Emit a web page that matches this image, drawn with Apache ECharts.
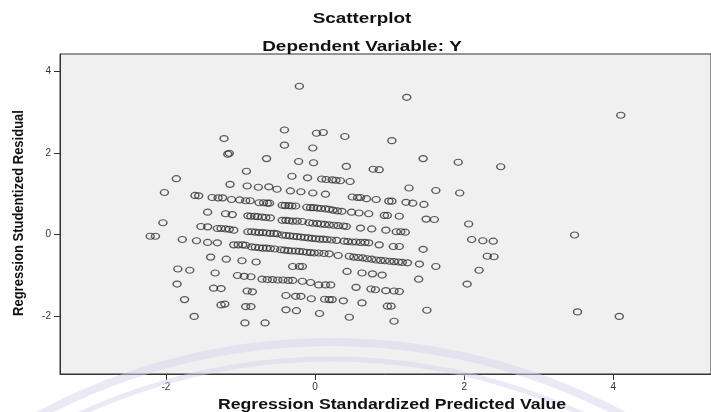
<!DOCTYPE html>
<html>
<head>
<meta charset="utf-8">
<script src="https://cdn.jsdelivr.net/npm/echarts@6/dist/echarts.min.js"></script>
<style>html,body{margin:0;padding:0;background:#fff;}#c{width:711px;height:412px;}</style>
</head>
<body>
<div id="c"></div>
<script>
// Tick values
const xTicks = [-2, 0, 2, 4];
const yTicks = [-2, 0, 2, 4];

// Points [standardized predicted, studentized residual]
const upperPoints = [
  [-2.02,1.03],[-1.14,1.23],[-0.91,1.19],[-0.76,1.16],[-0.62,1.17],[-0.51,1.11],[-0.33,1.07],[-0.19,1.05],[-0.03,1.02],[0.14,0.99],
  [0.50,0.92],[0.57,0.91],[0.61,0.91],[0.69,0.88],[0.82,0.86],[0.99,0.82],[1.03,0.82],[1.22,0.79],[1.31,0.77],[1.46,0.74],
  [-1.86,1.37],[-0.92,1.55],[-0.31,1.43],[-0.10,1.39],[0.09,1.36],[0.15,1.35],[0.23,1.34],[0.28,1.33],[0.34,1.32],[0.47,1.30],
  [1.26,1.14],[1.62,1.08],[1.94,1.02],
  [-0.65,1.86],[-0.22,1.79],[-0.02,1.76],[-1.17,1.97],[-1.15,1.99],[-0.41,2.19],[-0.03,2.12],[-1.22,2.35],[-0.41,2.56],
  [0.02,2.48],[0.11,2.50],[0.40,2.40],[1.03,2.30],[-0.21,3.63],[1.23,3.36],[4.10,2.92],[1.45,1.86],[1.92,1.77],[2.49,1.66],
  [0.42,1.67],[0.78,1.60],[0.86,1.59]
];
const bandA = [
  [-1.61,0.96],[-1.56,0.95],[-1.38,0.91],[-1.30,0.90],[-1.24,0.90],[-1.12,0.86],[-1.01,0.85],[-0.93,0.83],[-0.87,0.83],
  [-0.75,0.78],[-0.69,0.78],[-0.64,0.77],[-0.61,0.77],[-0.44,0.72],[-0.40,0.71],[-0.35,0.71],[-0.31,0.70],[-0.26,0.70],
  [-0.11,0.67],[-0.06,0.66],[-0.02,0.66],[0.03,0.65],[0.08,0.64],[0.14,0.63],[0.19,0.62],[0.24,0.60],[0.30,0.58],[0.36,0.57],
  [0.49,0.55],[0.59,0.53],[0.72,0.51],[0.93,0.47],[0.97,0.47],[1.13,0.45],[1.49,0.38],[1.60,0.37]
];
const bandB = [
  [-2.04,0.29],[-1.53,0.20],[-1.44,0.19],[-1.31,0.15],[-1.26,0.15],[-1.20,0.14],[-1.15,0.13],[-1.09,0.11],
  [-1.44,0.55],[-1.20,0.51],[-1.11,0.49],[-0.90,0.46],[-0.86,0.45],[-0.81,0.45],[-0.77,0.44],[-0.71,0.43],[-0.66,0.42],[-0.60,0.41],
  [-0.44,0.35],[-0.39,0.35],[-0.35,0.34],[-0.30,0.33],[-0.24,0.33],[-0.17,0.32],[-0.08,0.29],[-0.03,0.28],[0.03,0.27],[0.08,0.26],
  [0.13,0.25],[0.19,0.24],[0.25,0.23],[0.31,0.22],[0.38,0.21],[0.42,0.20],[0.61,0.16],[0.76,0.14],[0.95,0.11],[1.09,0.07],
  [1.15,0.07],[1.21,0.06],[2.06,0.26]
];
const bandC = [
  [-2.21,-0.04],[-2.14,-0.04],[-1.78,-0.12],[-1.59,-0.15],[-1.44,-0.19],[-1.31,-0.20],
  [-0.90,0.07],[-0.85,0.07],[-0.80,0.06],[-0.75,0.05],[-0.70,0.05],[-0.65,0.04],[-0.60,0.03],[-0.55,0.03],[-0.51,0.02],
  [-0.44,-0.01],[-0.39,-0.02],[-0.34,-0.03],[-0.29,-0.04],[-0.24,-0.05],[-0.19,-0.06],[-0.14,-0.07],[-0.09,-0.08],[-0.04,-0.09],
  [0.01,-0.10],[0.06,-0.11],[0.11,-0.11],[0.16,-0.12],[0.22,-0.13],[0.29,-0.14],[0.39,-0.16],[0.44,-0.17],[0.50,-0.18],
  [0.55,-0.18],[0.61,-0.19],[0.67,-0.19],[0.72,-0.20],[0.86,-0.25],[1.05,-0.29],[1.13,-0.29],[1.45,-0.36],
  [2.10,-0.12],[2.25,-0.15],[2.39,-0.16],[3.48,-0.01]
];
const bandD = [
  [-1.09,-0.25],[-1.03,-0.25],[-0.97,-0.25],[-0.93,-0.26],[-0.85,-0.30],[-0.80,-0.31],[-0.75,-0.32],[-0.70,-0.33],[-0.65,-0.33],
  [-0.60,-0.34],[-0.54,-0.35],[-0.46,-0.37],[-0.41,-0.38],[-0.36,-0.39],[-0.31,-0.40],[-0.26,-0.40],[-0.21,-0.41],[-0.16,-0.42],
  [-0.11,-0.43],[-0.06,-0.44],[-0.01,-0.45],[0.05,-0.45],[0.12,-0.46],[0.19,-0.47],[0.31,-0.51],[0.46,-0.53],[0.52,-0.55],
  [0.58,-0.56],[0.64,-0.57],[0.70,-0.59],[0.76,-0.60],[0.82,-0.62],[0.88,-0.63],[0.94,-0.64],[1.00,-0.65],[1.06,-0.66],
  [1.12,-0.67],[1.17,-0.68],[1.24,-0.69],[1.40,-0.72],[1.62,-0.78],[2.31,-0.53],[2.40,-0.54]
];
const lowerPoints = [
  [-1.40,-0.55],[-1.19,-0.60],[-0.98,-0.64],[-0.79,-0.67],[-0.30,-0.78],[-0.21,-0.78],[-0.17,-0.78],[2.20,-0.87],
  [-1.84,-0.84],[-1.68,-0.87],[-1.34,-0.94],[-1.04,-1.00],[-0.95,-1.02],[-0.86,-1.03],[-0.71,-1.09],[-0.64,-1.10],[-0.57,-1.10],
  [-0.50,-1.11],[-0.43,-1.11],[-0.36,-1.12],[-0.30,-1.12],[-0.17,-1.14],[-0.06,-1.17],[0.05,-1.23],[0.14,-1.23],[0.21,-1.23],
  [0.43,-0.90],[0.63,-0.94],[0.77,-0.96],[0.90,-0.99],[1.39,-1.09],[2.04,-1.21],[0.55,-1.29],[0.75,-1.33],[0.81,-1.35],
  [0.95,-1.37],[1.06,-1.38],[1.13,-1.39],
  [-1.85,-1.21],[-1.36,-1.31],[-1.26,-1.32],[-0.91,-1.38],[-0.84,-1.40],[-0.39,-1.49],[-0.26,-1.51],[-0.19,-1.51],[-0.05,-1.57],
  [0.13,-1.58],[0.19,-1.59],[0.23,-1.59],[0.38,-1.62],[0.63,-1.67],[0.97,-1.75],[1.02,-1.75],[1.50,-1.85],
  [-1.75,-1.59],[-1.26,-1.72],[-1.21,-1.70],[-0.93,-1.76],[-0.86,-1.76],[-0.39,-1.84],[-0.25,-1.86],[0.06,-1.93],
  [-1.62,-2.00],[-0.94,-2.16],[-0.67,-2.16],[0.46,-2.02],[1.06,-2.12],[3.52,-1.89],[4.08,-2.00]
];

const allPoints = [].concat(upperPoints, bandA, bandB, bandC, bandD, lowerPoints);

const chart = echarts.init(document.getElementById('c'), null, {renderer: 'canvas'});
const FONT = '"Liberation Sans", Arial, sans-serif';
chart.setOption({
  backgroundColor: '#ffffff',
  animation: false,
  grid: {
    left: 60, top: 54, right: -2, bottom: 38,
    show: true, backgroundColor: '#f0f0f0', borderColor: '#333', borderWidth: 1
  },
  xAxis: {
    type: 'value', min: -3.42, max: 5.31,
    axisLine: {show: true, onZero: false, lineStyle: {color: '#333', width: 1}},
    axisTick: {show: true, length: 6, customValues: xTicks, lineStyle: {color: '#333'}},
    axisLabel: {show: true, customValues: xTicks, margin: 8, fontSize: 10, color: '#333', fontFamily: FONT},
    splitLine: {show: false}
  },
  yAxis: {
    type: 'value', min: -3.41, max: 4.42,
    axisLine: {show: true, onZero: false, lineStyle: {color: '#333', width: 1}},
    axisTick: {show: true, length: 6, customValues: yTicks, lineStyle: {color: '#333'}},
    axisLabel: {show: true, customValues: yTicks, margin: 9, fontSize: 10, color: '#333', fontFamily: FONT},
    splitLine: {show: false}
  },
  graphic: [
    {type: 'arc', z: 1, silent: true, shape: {cx: 331, cy: 962, r: 620, startAngle: Math.PI * 1.3, endAngle: Math.PI * 1.7}, style: {stroke: '#d6d6f0', lineWidth: 8, fill: null, opacity: 0.5}},
    {type: 'arc', z: 1, silent: true, shape: {cx: 331, cy: 962, r: 603, startAngle: Math.PI * 1.3, endAngle: Math.PI * 1.7}, style: {stroke: '#d6d6f0', lineWidth: 5, fill: null, opacity: 0.5}},
    {type: 'text', x: 362, y: 19, scaleX: 1.26, z: 10, style: {text: 'Scatterplot', font: 'bold 15px ' + FONT, fill: '#111', textAlign: 'center', textVerticalAlign: 'middle'}},
    {type: 'text', x: 362, y: 47, scaleX: 1.26, z: 10, style: {text: 'Dependent Variable: Y', font: 'bold 15px ' + FONT, fill: '#111', textAlign: 'center', textVerticalAlign: 'middle'}},
    {type: 'text', x: 392, y: 405, scaleX: 1.26, z: 10, style: {text: 'Regression Standardized Predicted Value', font: 'bold 14px ' + FONT, fill: '#111', textAlign: 'center', textVerticalAlign: 'middle'}},
    {type: 'text', x: 19, y: 213, rotation: Math.PI / 2, scaleY: 1.15, z: 10, style: {text: 'Regression Studentized Residual', font: 'bold 13px ' + FONT, fill: '#111', textAlign: 'center', textVerticalAlign: 'middle'}}
  ],
  series: [{
    type: 'scatter',
    data: allPoints,
    symbol: 'circle',
    symbolSize: [8, 6],
    itemStyle: {color: 'rgba(0,0,0,0)', borderColor: '#333', borderWidth: 1.3},
    z: 5
  }]
});
</script>
</body>
</html>
